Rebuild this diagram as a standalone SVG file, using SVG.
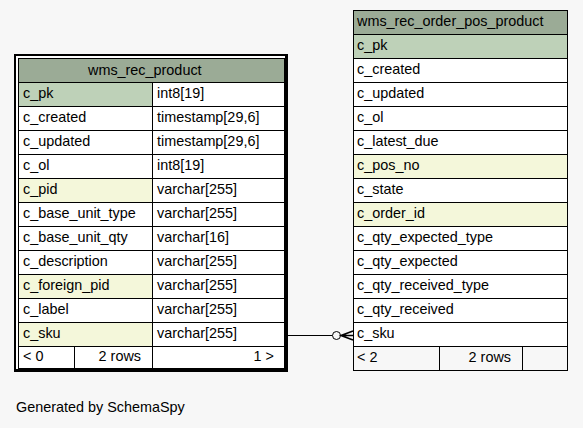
<svg xmlns="http://www.w3.org/2000/svg" width="583" height="428" viewBox="0 0 583 428">
<style>
text{font-family:"Liberation Sans",Arial,Helvetica,sans-serif;font-size:14.4px;fill:#000}
.c{stroke:#000;stroke-width:1}
.hd{fill:#9bab96}
.pk{fill:#bed1b8}
.ix{fill:#f4f7da}
.w{fill:#ffffff}
.ft{fill:#f7f7f7}
.e{text-anchor:end}
</style>
<rect width="583" height="428" fill="#f7f7f7"/>
<g id="connectors">
<line x1="288" y1="335.5" x2="332.5" y2="335.5" stroke="#000" stroke-width="1"/>
<circle cx="336.5" cy="335.5" r="4" fill="#f7f7f7" stroke="#000" stroke-width="1"/>
<path d="M353,331 L341,335.5 L353,340 M341,335.5 L353,335.5" fill="none" stroke="#000" stroke-width="1.6"/>
</g>
<g id="wms_rec_product">
<rect x="14" y="54" width="274" height="318" fill="#000"/>
<rect x="16" y="56" width="269" height="313" fill="#fff"/>
<rect class="c hd" x="18.5" y="58.5" width="266" height="24"/>
<text x="88" y="75">wms_rec_product</text>
<rect class="c pk" x="18.5" y="82.5" width="134" height="24"/><rect class="c w" x="152.5" y="82.5" width="132" height="24"/>
<rect class="c w" x="18.5" y="106.5" width="134" height="24"/><rect class="c w" x="152.5" y="106.5" width="132" height="24"/>
<rect class="c w" x="18.5" y="130.5" width="134" height="24"/><rect class="c w" x="152.5" y="130.5" width="132" height="24"/>
<rect class="c w" x="18.5" y="154.5" width="134" height="24"/><rect class="c w" x="152.5" y="154.5" width="132" height="24"/>
<rect class="c ix" x="18.5" y="178.5" width="134" height="24"/><rect class="c w" x="152.5" y="178.5" width="132" height="24"/>
<rect class="c w" x="18.5" y="202.5" width="134" height="24"/><rect class="c w" x="152.5" y="202.5" width="132" height="24"/>
<rect class="c w" x="18.5" y="226.5" width="134" height="24"/><rect class="c w" x="152.5" y="226.5" width="132" height="24"/>
<rect class="c w" x="18.5" y="250.5" width="134" height="24"/><rect class="c w" x="152.5" y="250.5" width="132" height="24"/>
<rect class="c ix" x="18.5" y="274.5" width="134" height="24"/><rect class="c w" x="152.5" y="274.5" width="132" height="24"/>
<rect class="c w" x="18.5" y="298.5" width="134" height="24"/><rect class="c w" x="152.5" y="298.5" width="132" height="24"/>
<rect class="c ix" x="18.5" y="322.5" width="134" height="24"/><rect class="c w" x="152.5" y="322.5" width="132" height="24"/>
<rect class="c w" x="18.5" y="346.5" width="56" height="22"/><rect class="c w" x="74.5" y="346.5" width="78" height="22"/><rect class="c w" x="152.5" y="346.5" width="132" height="22"/>
<text x="23" y="98">c_pk</text><text x="157" y="98">int8[19]</text>
<text x="23" y="122">c_created</text><text x="157" y="122">timestamp[29,6]</text>
<text x="23" y="146">c_updated</text><text x="157" y="146">timestamp[29,6]</text>
<text x="23" y="170">c_ol</text><text x="157" y="170">int8[19]</text>
<text x="23" y="194">c_pid</text><text x="157" y="194">varchar[255]</text>
<text x="23" y="218">c_base_unit_type</text><text x="157" y="218">varchar[255]</text>
<text x="23" y="242">c_base_unit_qty</text><text x="157" y="242">varchar[16]</text>
<text x="23" y="266">c_description</text><text x="157" y="266">varchar[255]</text>
<text x="23" y="290">c_foreign_pid</text><text x="157" y="290">varchar[255]</text>
<text x="23" y="314">c_label</text><text x="157" y="314">varchar[255]</text>
<text x="23" y="338">c_sku</text><text x="157" y="338">varchar[255]</text>
<text x="23" y="361">&lt; 0</text><text class="e" x="141" y="361">2 rows</text><text class="e" x="274" y="361">1 &gt;</text>
</g>
<g id="wms_rec_order_pos_product">
<rect class="c hd" x="353.5" y="10.5" width="214" height="24"/>
<text x="357" y="26">wms_rec_order_pos_product</text>
<rect class="c pk" x="353.5" y="34.5" width="214" height="24"/>
<rect class="c w" x="353.5" y="58.5" width="214" height="24"/>
<rect class="c w" x="353.5" y="82.5" width="214" height="24"/>
<rect class="c w" x="353.5" y="106.5" width="214" height="24"/>
<rect class="c w" x="353.5" y="130.5" width="214" height="24"/>
<rect class="c ix" x="353.5" y="154.5" width="214" height="24"/>
<rect class="c w" x="353.5" y="178.5" width="214" height="24"/>
<rect class="c ix" x="353.5" y="202.5" width="214" height="24"/>
<rect class="c w" x="353.5" y="226.5" width="214" height="24"/>
<rect class="c w" x="353.5" y="250.5" width="214" height="24"/>
<rect class="c w" x="353.5" y="274.5" width="214" height="24"/>
<rect class="c w" x="353.5" y="298.5" width="214" height="24"/>
<rect class="c w" x="353.5" y="322.5" width="214" height="24"/>
<rect class="c ft" x="353.5" y="346.5" width="86" height="24"/><rect class="c ft" x="439.5" y="346.5" width="83" height="24"/><rect class="c ft" x="522.5" y="346.5" width="45" height="24"/>
<text x="357" y="50">c_pk</text>
<text x="357" y="74">c_created</text>
<text x="357" y="98">c_updated</text>
<text x="357" y="122">c_ol</text>
<text x="357" y="146">c_latest_due</text>
<text x="357" y="170">c_pos_no</text>
<text x="357" y="194">c_state</text>
<text x="357" y="218">c_order_id</text>
<text x="357" y="242">c_qty_expected_type</text>
<text x="357" y="266">c_qty_expected</text>
<text x="357" y="290">c_qty_received_type</text>
<text x="357" y="314">c_qty_received</text>
<text x="357" y="338">c_sku</text>
<text x="357" y="362">&lt; 2</text><text class="e" x="511" y="362">2 rows</text>
</g>
<text x="16" y="412">Generated by SchemaSpy</text>
</svg>
